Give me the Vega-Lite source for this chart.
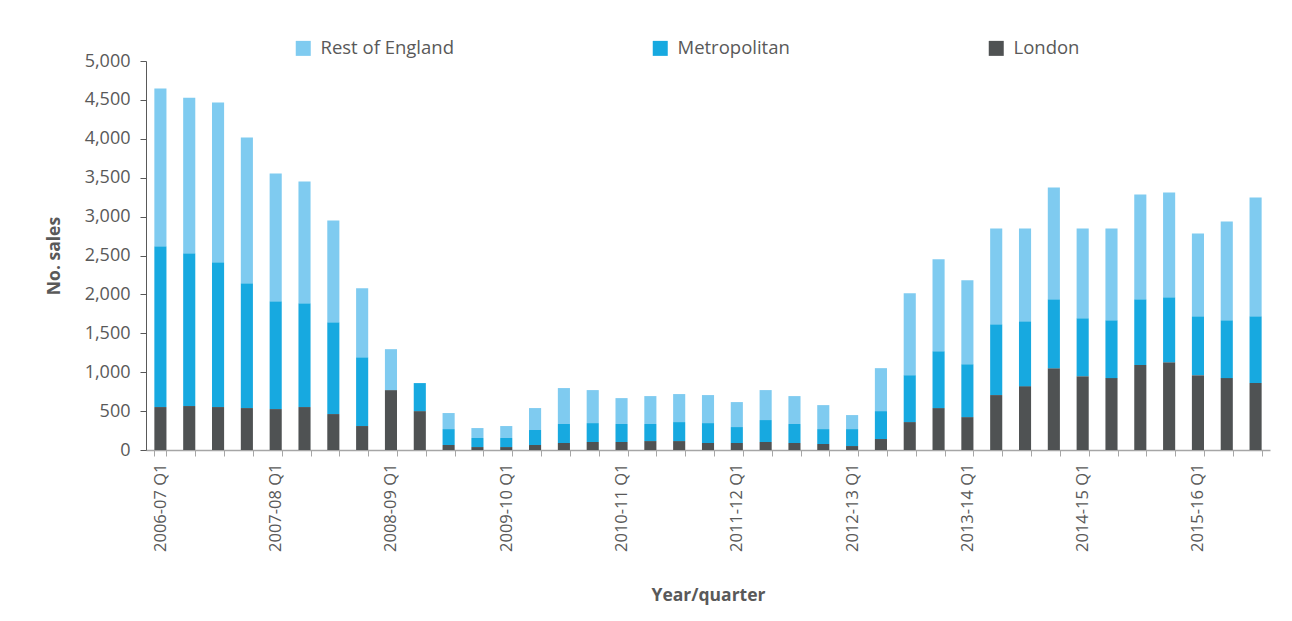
{
  "$schema": "https://vega.github.io/schema/vega-lite/v6.json",
  "width": 1124,
  "height": 389,
  "autosize": {"type": "none"},
  "padding": {"left": 146, "top": 61, "right": 22, "bottom": 171},
  "background": "white",
  "data": {
    "values": [
      {"q": "2006-07 Q1", "region": "London", "sales": 552}, {"q": "2006-07 Q1", "region": "Metropolitan", "sales": 2066}, {"q": "2006-07 Q1", "region": "Rest of England", "sales": 2027},
      {"q": "2006-07 Q2", "region": "London", "sales": 565}, {"q": "2006-07 Q2", "region": "Metropolitan", "sales": 1963}, {"q": "2006-07 Q2", "region": "Rest of England", "sales": 2001},
      {"q": "2006-07 Q3", "region": "London", "sales": 552}, {"q": "2006-07 Q3", "region": "Metropolitan", "sales": 1860}, {"q": "2006-07 Q3", "region": "Rest of England", "sales": 2053},
      {"q": "2006-07 Q4", "region": "London", "sales": 539}, {"q": "2006-07 Q4", "region": "Metropolitan", "sales": 1604}, {"q": "2006-07 Q4", "region": "Rest of England", "sales": 1873},
      {"q": "2007-08 Q1", "region": "London", "sales": 526}, {"q": "2007-08 Q1", "region": "Metropolitan", "sales": 1386}, {"q": "2007-08 Q1", "region": "Rest of England", "sales": 1642},
      {"q": "2007-08 Q2", "region": "London", "sales": 552}, {"q": "2007-08 Q2", "region": "Metropolitan", "sales": 1334}, {"q": "2007-08 Q2", "region": "Rest of England", "sales": 1566},
      {"q": "2007-08 Q3", "region": "London", "sales": 462}, {"q": "2007-08 Q3", "region": "Metropolitan", "sales": 1180}, {"q": "2007-08 Q3", "region": "Rest of England", "sales": 1309},
      {"q": "2007-08 Q4", "region": "London", "sales": 308}, {"q": "2007-08 Q4", "region": "Metropolitan", "sales": 885}, {"q": "2007-08 Q4", "region": "Rest of England", "sales": 886},
      {"q": "2008-09 Q1", "region": "London", "sales": 770}, {"q": "2008-09 Q1", "region": "Metropolitan", "sales": 0}, {"q": "2008-09 Q1", "region": "Rest of England", "sales": 526},
      {"q": "2008-09 Q2", "region": "London", "sales": 500}, {"q": "2008-09 Q2", "region": "Metropolitan", "sales": 360}, {"q": "2008-09 Q2", "region": "Rest of England", "sales": 0},
      {"q": "2008-09 Q3", "region": "London", "sales": 64}, {"q": "2008-09 Q3", "region": "Metropolitan", "sales": 205}, {"q": "2008-09 Q3", "region": "Rest of England", "sales": 206},
      {"q": "2008-09 Q4", "region": "London", "sales": 38}, {"q": "2008-09 Q4", "region": "Metropolitan", "sales": 116}, {"q": "2008-09 Q4", "region": "Rest of England", "sales": 128},
      {"q": "2009-10 Q1", "region": "London", "sales": 38}, {"q": "2009-10 Q1", "region": "Metropolitan", "sales": 116}, {"q": "2009-10 Q1", "region": "Rest of England", "sales": 154},
      {"q": "2009-10 Q2", "region": "London", "sales": 64}, {"q": "2009-10 Q2", "region": "Metropolitan", "sales": 193}, {"q": "2009-10 Q2", "region": "Rest of England", "sales": 282},
      {"q": "2009-10 Q3", "region": "London", "sales": 90}, {"q": "2009-10 Q3", "region": "Metropolitan", "sales": 244}, {"q": "2009-10 Q3", "region": "Rest of England", "sales": 462},
      {"q": "2009-10 Q4", "region": "London", "sales": 103}, {"q": "2009-10 Q4", "region": "Metropolitan", "sales": 243}, {"q": "2009-10 Q4", "region": "Rest of England", "sales": 424},
      {"q": "2010-11 Q1", "region": "London", "sales": 103}, {"q": "2010-11 Q1", "region": "Metropolitan", "sales": 231}, {"q": "2010-11 Q1", "region": "Rest of England", "sales": 333},
      {"q": "2010-11 Q2", "region": "London", "sales": 115}, {"q": "2010-11 Q2", "region": "Metropolitan", "sales": 219}, {"q": "2010-11 Q2", "region": "Rest of England", "sales": 359},
      {"q": "2010-11 Q3", "region": "London", "sales": 115}, {"q": "2010-11 Q3", "region": "Metropolitan", "sales": 244}, {"q": "2010-11 Q3", "region": "Rest of England", "sales": 360},
      {"q": "2010-11 Q4", "region": "London", "sales": 90}, {"q": "2010-11 Q4", "region": "Metropolitan", "sales": 256}, {"q": "2010-11 Q4", "region": "Rest of England", "sales": 360},
      {"q": "2011-12 Q1", "region": "London", "sales": 90}, {"q": "2011-12 Q1", "region": "Metropolitan", "sales": 205}, {"q": "2011-12 Q1", "region": "Rest of England", "sales": 321},
      {"q": "2011-12 Q2", "region": "London", "sales": 103}, {"q": "2011-12 Q2", "region": "Metropolitan", "sales": 282}, {"q": "2011-12 Q2", "region": "Rest of England", "sales": 385},
      {"q": "2011-12 Q3", "region": "London", "sales": 90}, {"q": "2011-12 Q3", "region": "Metropolitan", "sales": 244}, {"q": "2011-12 Q3", "region": "Rest of England", "sales": 359},
      {"q": "2011-12 Q4", "region": "London", "sales": 77}, {"q": "2011-12 Q4", "region": "Metropolitan", "sales": 192}, {"q": "2011-12 Q4", "region": "Rest of England", "sales": 308},
      {"q": "2012-13 Q1", "region": "London", "sales": 51}, {"q": "2012-13 Q1", "region": "Metropolitan", "sales": 218}, {"q": "2012-13 Q1", "region": "Rest of England", "sales": 180},
      {"q": "2012-13 Q2", "region": "London", "sales": 141}, {"q": "2012-13 Q2", "region": "Metropolitan", "sales": 359}, {"q": "2012-13 Q2", "region": "Rest of England", "sales": 552},
      {"q": "2012-13 Q3", "region": "London", "sales": 359}, {"q": "2012-13 Q3", "region": "Metropolitan", "sales": 603}, {"q": "2012-13 Q3", "region": "Rest of England", "sales": 1052},
      {"q": "2012-13 Q4", "region": "London", "sales": 539}, {"q": "2012-13 Q4", "region": "Metropolitan", "sales": 731}, {"q": "2012-13 Q4", "region": "Rest of England", "sales": 1181},
      {"q": "2013-14 Q1", "region": "London", "sales": 423}, {"q": "2013-14 Q1", "region": "Metropolitan", "sales": 680}, {"q": "2013-14 Q1", "region": "Rest of England", "sales": 1078},
      {"q": "2013-14 Q2", "region": "London", "sales": 706}, {"q": "2013-14 Q2", "region": "Metropolitan", "sales": 911}, {"q": "2013-14 Q2", "region": "Rest of England", "sales": 1231},
      {"q": "2013-14 Q3", "region": "London", "sales": 821}, {"q": "2013-14 Q3", "region": "Metropolitan", "sales": 834}, {"q": "2013-14 Q3", "region": "Rest of England", "sales": 1193},
      {"q": "2013-14 Q4", "region": "London", "sales": 1052}, {"q": "2013-14 Q4", "region": "Metropolitan", "sales": 885}, {"q": "2013-14 Q4", "region": "Rest of England", "sales": 1438},
      {"q": "2014-15 Q1", "region": "London", "sales": 949}, {"q": "2014-15 Q1", "region": "Metropolitan", "sales": 745}, {"q": "2014-15 Q1", "region": "Rest of England", "sales": 1154},
      {"q": "2014-15 Q2", "region": "London", "sales": 924}, {"q": "2014-15 Q2", "region": "Metropolitan", "sales": 744}, {"q": "2014-15 Q2", "region": "Rest of England", "sales": 1180},
      {"q": "2014-15 Q3", "region": "London", "sales": 1091}, {"q": "2014-15 Q3", "region": "Metropolitan", "sales": 846}, {"q": "2014-15 Q3", "region": "Rest of England", "sales": 1348},
      {"q": "2014-15 Q4", "region": "London", "sales": 1129}, {"q": "2014-15 Q4", "region": "Metropolitan", "sales": 834}, {"q": "2014-15 Q4", "region": "Rest of England", "sales": 1347},
      {"q": "2015-16 Q1", "region": "London", "sales": 962}, {"q": "2015-16 Q1", "region": "Metropolitan", "sales": 757}, {"q": "2015-16 Q1", "region": "Rest of England", "sales": 1065},
      {"q": "2015-16 Q2", "region": "London", "sales": 924}, {"q": "2015-16 Q2", "region": "Metropolitan", "sales": 744}, {"q": "2015-16 Q2", "region": "Rest of England", "sales": 1270},
      {"q": "2015-16 Q3", "region": "London", "sales": 860}, {"q": "2015-16 Q3", "region": "Metropolitan", "sales": 859}, {"q": "2015-16 Q3", "region": "Rest of England", "sales": 1527}
    ]
  },
  "mark": {"type": "bar"},
  "encoding": {
    "x": {
      "field": "q",
      "type": "ordinal",
      "sort": null,
      "scale": {"paddingInner": 0.58, "paddingOuter": 0.29},
      "axis": {
        "title": "Year/quarter",
        "titleFont": "Open Sans",
        "titleFontSize": 17.5,
        "titleFontWeight": "bold",
        "titleColor": "#595959",
        "titlePadding": 35,
        "labelExpr": "isString(datum.value) && indexof(datum.value, 'Q1') >= 0 ? datum.value : ''",
        "labelAngle": -90,
        "labelFont": "Open Sans",
        "labelFontSize": 16.5,
        "labelColor": "#595959",
        "labelPadding": 7,
        "labelOverlap": false,
        "tickBand": "extent",
        "tickSize": 6,
        "tickColor": "#a6a6a6",
        "domainColor": "#a6a6a6",
        "domainWidth": 1.5
      }
    },
    "y": {
      "field": "sales",
      "type": "quantitative",
      "scale": {"domain": [0, 5000]},
      "axis": {
        "title": "No. sales",
        "titleFont": "Open Sans",
        "titleFontSize": 17.5,
        "titleFontWeight": "bold",
        "titleColor": "#595959",
        "titlePadding": 21,
        "values": [0, 500, 1000, 1500, 2000, 2500, 3000, 3500, 4000, 4500, 5000],
        "format": ",.0f",
        "labelFont": "Open Sans",
        "labelFontSize": 18,
        "labelColor": "#595959",
        "labelPadding": 10,
        "grid": false,
        "tickSize": 6,
        "tickColor": "#595959",
        "domainColor": "#595959"
      }
    },
    "color": {
      "field": "region",
      "type": "nominal",
      "scale": {
        "domain": ["Rest of England", "Metropolitan", "London"],
        "range": ["#7fcbf0", "#17a9e0", "#4f5253"]
      },
      "legend": {
        "title": null,
        "orient": "none",
        "legendX": 148,
        "legendY": -22,
        "direction": "horizontal",
        "symbolType": "square",
        "symbolSize": 225,
        "labelFont": "Open Sans",
        "labelFontSize": 18.5,
        "labelColor": "#595959",
        "labelOffset": 8,
        "columnPadding": 197,
        "labelLimit": 300
      }
    },
    "order": {"field": "region", "type": "nominal", "sort": "ascending"}
  },
  "config": {
    "view": {"stroke": null}
  }
}
